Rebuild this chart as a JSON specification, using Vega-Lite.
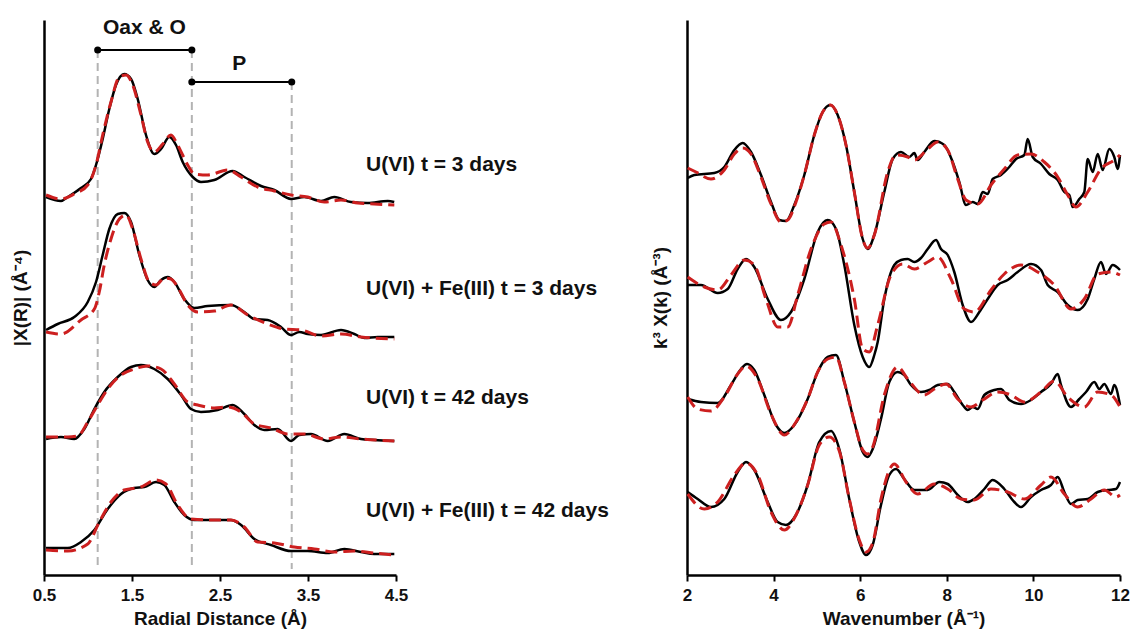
{
  "$schema": "https://vega.github.io/schema/vega-lite/v6.json",
  "padding": {"left": 11, "top": 16, "right": 5, "bottom": 5},
  "background": "white",
  "spacing": 291,
  "bounds": "flush",
  "config": {
    "view": {"stroke": null},
    "font": "Liberation Sans",
    "axis": {"domainColor": "black", "domainWidth": 2.5, "tickColor": "black", "tickWidth": 2, "tickSize": 6, "labelFont": "Liberation Sans", "labelFontWeight": "bold", "labelFontSize": 17, "labelColor": "#111111", "titleFont": "Liberation Sans", "titleFontWeight": "bold", "titleFontSize": 19, "titleColor": "#111111", "grid": false, "labelFlush": false},
    "axisY": {"ticks": false, "labels": false}
  },
  "datasets": {
    "L": [
      {"s":1,"t":"d","x":0.523,"y":378},{"s":1,"t":"d","x":0.693,"y":374},{"s":1,"t":"d","x":0.77,"y":378},{"s":1,"t":"d","x":0.92,"y":387},{"s":1,"t":"d","x":1.034,"y":396},{"s":1,"t":"d","x":1.091,"y":410},{"s":1,"t":"d","x":1.167,"y":436},{"s":1,"t":"d","x":1.242,"y":466},{"s":1,"t":"d","x":1.318,"y":490},{"s":1,"t":"d","x":1.412,"y":501},{"s":1,"t":"d","x":1.489,"y":496},{"s":1,"t":"d","x":1.565,"y":476},{"s":1,"t":"d","x":1.659,"y":440},{"s":1,"t":"d","x":1.753,"y":421},{"s":1,"t":"d","x":1.83,"y":426},{"s":1,"t":"d","x":1.924,"y":438},{"s":1,"t":"d","x":2.0,"y":430},{"s":1,"t":"d","x":2.076,"y":413},{"s":1,"t":"d","x":2.19,"y":398},{"s":1,"t":"d","x":2.284,"y":393},{"s":1,"t":"d","x":2.435,"y":395},{"s":1,"t":"d","x":2.644,"y":404},{"s":1,"t":"d","x":2.776,"y":398},{"s":1,"t":"d","x":2.966,"y":389},{"s":1,"t":"d","x":3.117,"y":385},{"s":1,"t":"d","x":3.307,"y":376},{"s":1,"t":"d","x":3.458,"y":378},{"s":1,"t":"d","x":3.648,"y":374},{"s":1,"t":"d","x":3.799,"y":378},{"s":1,"t":"d","x":3.989,"y":373},{"s":1,"t":"d","x":4.178,"y":372},{"s":1,"t":"d","x":4.406,"y":374},{"s":1,"t":"d","x":4.48,"y":373},
      {"s":1,"t":"f","x":0.523,"y":380},{"s":1,"t":"f","x":0.693,"y":376},{"s":1,"t":"f","x":0.844,"y":381},{"s":1,"t":"f","x":0.997,"y":390},{"s":1,"t":"f","x":1.091,"y":410},{"s":1,"t":"f","x":1.167,"y":440},{"s":1,"t":"f","x":1.261,"y":473},{"s":1,"t":"f","x":1.356,"y":498},{"s":1,"t":"f","x":1.432,"y":500},{"s":1,"t":"f","x":1.508,"y":490},{"s":1,"t":"f","x":1.602,"y":460},{"s":1,"t":"f","x":1.678,"y":433},{"s":1,"t":"f","x":1.753,"y":423},{"s":1,"t":"f","x":1.849,"y":431},{"s":1,"t":"f","x":1.943,"y":440},{"s":1,"t":"f","x":2.019,"y":430},{"s":1,"t":"f","x":2.133,"y":410},{"s":1,"t":"f","x":2.208,"y":401},{"s":1,"t":"f","x":2.36,"y":400},{"s":1,"t":"f","x":2.588,"y":405},{"s":1,"t":"f","x":2.739,"y":398},{"s":1,"t":"f","x":2.928,"y":388},{"s":1,"t":"f","x":3.117,"y":384},{"s":1,"t":"f","x":3.307,"y":380},{"s":1,"t":"f","x":3.497,"y":378},{"s":1,"t":"f","x":3.685,"y":373},{"s":1,"t":"f","x":3.875,"y":375},{"s":1,"t":"f","x":4.065,"y":372},{"s":1,"t":"f","x":4.253,"y":371},{"s":1,"t":"f","x":4.481,"y":370},
      {"s":2,"t":"d","x":0.523,"y":245},{"s":2,"t":"d","x":0.656,"y":251},{"s":2,"t":"d","x":0.844,"y":258},{"s":2,"t":"d","x":0.997,"y":273},{"s":2,"t":"d","x":1.091,"y":293},{"s":2,"t":"d","x":1.167,"y":320},{"s":2,"t":"d","x":1.242,"y":346},{"s":2,"t":"d","x":1.338,"y":361},{"s":2,"t":"d","x":1.412,"y":362},{"s":2,"t":"d","x":1.489,"y":353},{"s":2,"t":"d","x":1.583,"y":320},{"s":2,"t":"d","x":1.678,"y":295},{"s":2,"t":"d","x":1.753,"y":288},{"s":2,"t":"d","x":1.83,"y":295},{"s":2,"t":"d","x":1.906,"y":298},{"s":2,"t":"d","x":1.981,"y":293},{"s":2,"t":"d","x":2.094,"y":276},{"s":2,"t":"d","x":2.208,"y":267},{"s":2,"t":"d","x":2.36,"y":269},{"s":2,"t":"d","x":2.625,"y":270},{"s":2,"t":"d","x":2.776,"y":263},{"s":2,"t":"d","x":2.89,"y":256},{"s":2,"t":"d","x":3.042,"y":255},{"s":2,"t":"d","x":3.193,"y":248},{"s":2,"t":"d","x":3.307,"y":240},{"s":2,"t":"d","x":3.401,"y":243},{"s":2,"t":"d","x":3.497,"y":241},{"s":2,"t":"d","x":3.648,"y":240},{"s":2,"t":"d","x":3.875,"y":245},{"s":2,"t":"d","x":4.026,"y":241},{"s":2,"t":"d","x":4.14,"y":237},{"s":2,"t":"d","x":4.292,"y":238},{"s":2,"t":"d","x":4.481,"y":238},
      {"s":2,"t":"f","x":0.523,"y":243},{"s":2,"t":"f","x":0.693,"y":241},{"s":2,"t":"f","x":0.92,"y":255},{"s":2,"t":"f","x":1.072,"y":266},{"s":2,"t":"f","x":1.128,"y":283},{"s":2,"t":"f","x":1.185,"y":310},{"s":2,"t":"f","x":1.261,"y":336},{"s":2,"t":"f","x":1.356,"y":356},{"s":2,"t":"f","x":1.432,"y":360},{"s":2,"t":"f","x":1.508,"y":346},{"s":2,"t":"f","x":1.602,"y":316},{"s":2,"t":"f","x":1.697,"y":293},{"s":2,"t":"f","x":1.773,"y":290},{"s":2,"t":"f","x":1.867,"y":297},{"s":2,"t":"f","x":1.943,"y":296},{"s":2,"t":"f","x":2.019,"y":288},{"s":2,"t":"f","x":2.133,"y":270},{"s":2,"t":"f","x":2.247,"y":263},{"s":2,"t":"f","x":2.435,"y":264},{"s":2,"t":"f","x":2.625,"y":270},{"s":2,"t":"f","x":2.815,"y":260},{"s":2,"t":"f","x":3.042,"y":251},{"s":2,"t":"f","x":3.231,"y":246},{"s":2,"t":"f","x":3.42,"y":245},{"s":2,"t":"f","x":3.648,"y":239},{"s":2,"t":"f","x":3.875,"y":241},{"s":2,"t":"f","x":4.102,"y":238},{"s":2,"t":"f","x":4.481,"y":236},
      {"s":3,"t":"d","x":0.523,"y":136},{"s":3,"t":"d","x":0.693,"y":138},{"s":3,"t":"d","x":0.844,"y":136},{"s":3,"t":"d","x":0.958,"y":146},{"s":3,"t":"d","x":1.072,"y":166},{"s":3,"t":"d","x":1.185,"y":183},{"s":3,"t":"d","x":1.338,"y":198},{"s":3,"t":"d","x":1.489,"y":208},{"s":3,"t":"d","x":1.602,"y":210},{"s":3,"t":"d","x":1.753,"y":206},{"s":3,"t":"d","x":1.906,"y":196},{"s":3,"t":"d","x":2.057,"y":180},{"s":3,"t":"d","x":2.17,"y":166},{"s":3,"t":"d","x":2.284,"y":163},{"s":3,"t":"d","x":2.474,"y":165},{"s":3,"t":"d","x":2.644,"y":170},{"s":3,"t":"d","x":2.776,"y":161},{"s":3,"t":"d","x":2.89,"y":150},{"s":3,"t":"d","x":3.003,"y":145},{"s":3,"t":"d","x":3.156,"y":146},{"s":3,"t":"d","x":3.307,"y":134},{"s":3,"t":"d","x":3.401,"y":140},{"s":3,"t":"d","x":3.534,"y":141},{"s":3,"t":"d","x":3.724,"y":134},{"s":3,"t":"d","x":3.913,"y":141},{"s":3,"t":"d","x":4.102,"y":136},{"s":3,"t":"d","x":4.253,"y":135},{"s":3,"t":"d","x":4.481,"y":134},
      {"s":3,"t":"f","x":0.523,"y":138},{"s":3,"t":"f","x":0.77,"y":138},{"s":3,"t":"f","x":0.883,"y":139},{"s":3,"t":"f","x":0.997,"y":153},{"s":3,"t":"f","x":1.11,"y":170},{"s":3,"t":"f","x":1.224,"y":186},{"s":3,"t":"f","x":1.375,"y":200},{"s":3,"t":"f","x":1.526,"y":206},{"s":3,"t":"f","x":1.678,"y":209},{"s":3,"t":"f","x":1.83,"y":206},{"s":3,"t":"f","x":1.981,"y":191},{"s":3,"t":"f","x":2.133,"y":173},{"s":3,"t":"f","x":2.247,"y":170},{"s":3,"t":"f","x":2.435,"y":167},{"s":3,"t":"f","x":2.588,"y":168},{"s":3,"t":"f","x":2.739,"y":163},{"s":3,"t":"f","x":2.89,"y":151},{"s":3,"t":"f","x":3.08,"y":147},{"s":3,"t":"f","x":3.269,"y":141},{"s":3,"t":"f","x":3.458,"y":141},{"s":3,"t":"f","x":3.685,"y":136},{"s":3,"t":"f","x":3.875,"y":138},{"s":3,"t":"f","x":4.102,"y":136},{"s":3,"t":"f","x":4.481,"y":134},
      {"s":4,"t":"d","x":0.523,"y":27},{"s":4,"t":"d","x":0.77,"y":27},{"s":4,"t":"d","x":0.92,"y":33},{"s":4,"t":"d","x":1.072,"y":45},{"s":4,"t":"d","x":1.224,"y":66},{"s":4,"t":"d","x":1.375,"y":81},{"s":4,"t":"d","x":1.526,"y":87},{"s":4,"t":"d","x":1.64,"y":88},{"s":4,"t":"d","x":1.773,"y":93},{"s":4,"t":"d","x":1.867,"y":90},{"s":4,"t":"d","x":1.981,"y":73},{"s":4,"t":"d","x":2.094,"y":60},{"s":4,"t":"d","x":2.208,"y":55},{"s":4,"t":"d","x":2.435,"y":55},{"s":4,"t":"d","x":2.625,"y":55},{"s":4,"t":"d","x":2.739,"y":50},{"s":4,"t":"d","x":2.89,"y":36},{"s":4,"t":"d","x":3.08,"y":30},{"s":4,"t":"d","x":3.307,"y":24},{"s":4,"t":"d","x":3.497,"y":24},{"s":4,"t":"d","x":3.724,"y":22},{"s":4,"t":"d","x":3.913,"y":26},{"s":4,"t":"d","x":4.102,"y":23},{"s":4,"t":"d","x":4.253,"y":21},{"s":4,"t":"d","x":4.481,"y":21},
      {"s":4,"t":"f","x":0.523,"y":25},{"s":4,"t":"f","x":0.77,"y":24},{"s":4,"t":"f","x":0.997,"y":31},{"s":4,"t":"f","x":1.128,"y":53},{"s":4,"t":"f","x":1.261,"y":73},{"s":4,"t":"f","x":1.412,"y":85},{"s":4,"t":"f","x":1.602,"y":88},{"s":4,"t":"f","x":1.773,"y":95},{"s":4,"t":"f","x":1.886,"y":91},{"s":4,"t":"f","x":2.019,"y":70},{"s":4,"t":"f","x":2.17,"y":56},{"s":4,"t":"f","x":2.398,"y":55},{"s":4,"t":"f","x":2.625,"y":55},{"s":4,"t":"f","x":2.776,"y":48},{"s":4,"t":"f","x":2.928,"y":33},{"s":4,"t":"f","x":3.117,"y":32},{"s":4,"t":"f","x":3.344,"y":28},{"s":4,"t":"f","x":3.572,"y":26},{"s":4,"t":"f","x":3.799,"y":23},{"s":4,"t":"f","x":4.027,"y":24},{"s":4,"t":"f","x":4.253,"y":22},{"s":4,"t":"f","x":4.481,"y":20}
    ],
    "R": [
      {"s":1,"t":"d","x":2.016,"y":397},{"s":1,"t":"d","x":2.169,"y":400},{"s":1,"t":"d","x":2.63,"y":402},{"s":1,"t":"d","x":2.861,"y":408},{"s":1,"t":"d","x":3.092,"y":425},{"s":1,"t":"d","x":3.286,"y":432},{"s":1,"t":"d","x":3.478,"y":423},{"s":1,"t":"d","x":3.709,"y":400},{"s":1,"t":"d","x":3.94,"y":373},{"s":1,"t":"d","x":4.132,"y":355},{"s":1,"t":"d","x":4.286,"y":354},{"s":1,"t":"d","x":4.478,"y":370},{"s":1,"t":"d","x":4.709,"y":400},{"s":1,"t":"d","x":4.94,"y":440},{"s":1,"t":"d","x":5.134,"y":463},{"s":1,"t":"d","x":5.309,"y":470},{"s":1,"t":"d","x":5.48,"y":460},{"s":1,"t":"d","x":5.672,"y":430},{"s":1,"t":"d","x":5.864,"y":383},{"s":1,"t":"d","x":6.058,"y":336},{"s":1,"t":"d","x":6.173,"y":326},{"s":1,"t":"d","x":6.326,"y":340},{"s":1,"t":"d","x":6.557,"y":383},{"s":1,"t":"d","x":6.751,"y":416},{"s":1,"t":"d","x":6.942,"y":423},{"s":1,"t":"d","x":7.134,"y":418},{"s":1,"t":"d","x":7.25,"y":422},{"s":1,"t":"d","x":7.328,"y":415},{"s":1,"t":"d","x":7.48,"y":423},{"s":1,"t":"d","x":7.711,"y":434},{"s":1,"t":"d","x":7.942,"y":430},{"s":1,"t":"d","x":8.136,"y":413},{"s":1,"t":"d","x":8.289,"y":393},{"s":1,"t":"d","x":8.443,"y":370},{"s":1,"t":"d","x":8.598,"y":373},{"s":1,"t":"d","x":8.714,"y":371},{"s":1,"t":"d","x":8.829,"y":383},{"s":1,"t":"d","x":8.945,"y":381},{"s":1,"t":"d","x":9.06,"y":396},{"s":1,"t":"d","x":9.252,"y":400},{"s":1,"t":"d","x":9.443,"y":408},{"s":1,"t":"d","x":9.598,"y":416},{"s":1,"t":"d","x":9.79,"y":420},{"s":1,"t":"d","x":9.868,"y":436},{"s":1,"t":"d","x":9.984,"y":418},{"s":1,"t":"d","x":10.176,"y":411},{"s":1,"t":"d","x":10.367,"y":401},{"s":1,"t":"d","x":10.561,"y":395},{"s":1,"t":"d","x":10.714,"y":383},{"s":1,"t":"d","x":10.829,"y":380},{"s":1,"t":"d","x":10.908,"y":368},{"s":1,"t":"d","x":11.06,"y":376},{"s":1,"t":"d","x":11.176,"y":383},{"s":1,"t":"d","x":11.254,"y":416},{"s":1,"t":"d","x":11.37,"y":403},{"s":1,"t":"d","x":11.485,"y":421},{"s":1,"t":"d","x":11.6,"y":405},{"s":1,"t":"d","x":11.753,"y":426},{"s":1,"t":"d","x":11.868,"y":418},{"s":1,"t":"d","x":11.947,"y":406},{"s":1,"t":"d","x":12.0,"y":420},
      {"s":1,"t":"f","x":2.016,"y":407},{"s":1,"t":"f","x":2.208,"y":403},{"s":1,"t":"f","x":2.554,"y":396},{"s":1,"t":"f","x":2.861,"y":405},{"s":1,"t":"f","x":3.092,"y":421},{"s":1,"t":"f","x":3.286,"y":427},{"s":1,"t":"f","x":3.478,"y":421},{"s":1,"t":"f","x":3.709,"y":398},{"s":1,"t":"f","x":3.94,"y":371},{"s":1,"t":"f","x":4.171,"y":353},{"s":1,"t":"f","x":4.326,"y":355},{"s":1,"t":"f","x":4.517,"y":373},{"s":1,"t":"f","x":4.709,"y":400},{"s":1,"t":"f","x":4.94,"y":440},{"s":1,"t":"f","x":5.134,"y":463},{"s":1,"t":"f","x":5.309,"y":470},{"s":1,"t":"f","x":5.48,"y":460},{"s":1,"t":"f","x":5.672,"y":430},{"s":1,"t":"f","x":5.864,"y":383},{"s":1,"t":"f","x":6.058,"y":336},{"s":1,"t":"f","x":6.173,"y":327},{"s":1,"t":"f","x":6.326,"y":340},{"s":1,"t":"f","x":6.635,"y":403},{"s":1,"t":"f","x":6.827,"y":420},{"s":1,"t":"f","x":7.097,"y":418},{"s":1,"t":"f","x":7.25,"y":415},{"s":1,"t":"f","x":7.559,"y":426},{"s":1,"t":"f","x":7.79,"y":433},{"s":1,"t":"f","x":8.021,"y":425},{"s":1,"t":"f","x":8.252,"y":396},{"s":1,"t":"f","x":8.443,"y":375},{"s":1,"t":"f","x":8.714,"y":371},{"s":1,"t":"f","x":9.021,"y":390},{"s":1,"t":"f","x":9.328,"y":406},{"s":1,"t":"f","x":9.637,"y":420},{"s":1,"t":"f","x":9.945,"y":421},{"s":1,"t":"f","x":10.252,"y":413},{"s":1,"t":"f","x":10.561,"y":398},{"s":1,"t":"f","x":10.792,"y":380},{"s":1,"t":"f","x":10.984,"y":368},{"s":1,"t":"f","x":11.254,"y":383},{"s":1,"t":"f","x":11.561,"y":406},{"s":1,"t":"f","x":11.868,"y":415},{"s":1,"t":"f","x":12.0,"y":420},
      {"s":2,"t":"d","x":2.016,"y":290},{"s":2,"t":"d","x":2.323,"y":290},{"s":2,"t":"d","x":2.709,"y":282},{"s":2,"t":"d","x":2.94,"y":286},{"s":2,"t":"d","x":3.171,"y":306},{"s":2,"t":"d","x":3.363,"y":316},{"s":2,"t":"d","x":3.554,"y":308},{"s":2,"t":"d","x":3.864,"y":276},{"s":2,"t":"d","x":4.171,"y":255},{"s":2,"t":"d","x":4.402,"y":263},{"s":2,"t":"d","x":4.709,"y":296},{"s":2,"t":"d","x":5.018,"y":343},{"s":2,"t":"d","x":5.249,"y":355},{"s":2,"t":"d","x":5.441,"y":346},{"s":2,"t":"d","x":5.633,"y":310},{"s":2,"t":"d","x":5.864,"y":250},{"s":2,"t":"d","x":6.058,"y":218},{"s":2,"t":"d","x":6.21,"y":208},{"s":2,"t":"d","x":6.326,"y":220},{"s":2,"t":"d","x":6.404,"y":233},{"s":2,"t":"d","x":6.557,"y":276},{"s":2,"t":"d","x":6.788,"y":310},{"s":2,"t":"d","x":6.942,"y":315},{"s":2,"t":"d","x":7.097,"y":316},{"s":2,"t":"d","x":7.25,"y":313},{"s":2,"t":"d","x":7.404,"y":317},{"s":2,"t":"d","x":7.559,"y":326},{"s":2,"t":"d","x":7.751,"y":335},{"s":2,"t":"d","x":7.866,"y":326},{"s":2,"t":"d","x":8.021,"y":320},{"s":2,"t":"d","x":8.173,"y":303},{"s":2,"t":"d","x":8.367,"y":270},{"s":2,"t":"d","x":8.559,"y":253},{"s":2,"t":"d","x":8.751,"y":263},{"s":2,"t":"d","x":8.945,"y":276},{"s":2,"t":"d","x":9.176,"y":290},{"s":2,"t":"d","x":9.406,"y":295},{"s":2,"t":"d","x":9.637,"y":303},{"s":2,"t":"d","x":9.945,"y":311},{"s":2,"t":"d","x":10.176,"y":305},{"s":2,"t":"d","x":10.33,"y":290},{"s":2,"t":"d","x":10.561,"y":283},{"s":2,"t":"d","x":10.792,"y":270},{"s":2,"t":"d","x":11.023,"y":265},{"s":2,"t":"d","x":11.254,"y":276},{"s":2,"t":"d","x":11.406,"y":296},{"s":2,"t":"d","x":11.561,"y":313},{"s":2,"t":"d","x":11.677,"y":301},{"s":2,"t":"d","x":11.831,"y":310},{"s":2,"t":"d","x":12.0,"y":305},
      {"s":2,"t":"f","x":2.016,"y":298},{"s":2,"t":"f","x":2.4,"y":288},{"s":2,"t":"f","x":2.709,"y":285},{"s":2,"t":"f","x":3.016,"y":300},{"s":2,"t":"f","x":3.323,"y":315},{"s":2,"t":"f","x":3.554,"y":310},{"s":2,"t":"f","x":3.824,"y":276},{"s":2,"t":"f","x":4.095,"y":248},{"s":2,"t":"f","x":4.326,"y":248},{"s":2,"t":"f","x":4.557,"y":280},{"s":2,"t":"f","x":4.864,"y":326},{"s":2,"t":"f","x":5.171,"y":351},{"s":2,"t":"f","x":5.326,"y":353},{"s":2,"t":"f","x":5.557,"y":330},{"s":2,"t":"f","x":5.864,"y":276},{"s":2,"t":"f","x":6.058,"y":226},{"s":2,"t":"f","x":6.21,"y":223},{"s":2,"t":"f","x":6.404,"y":250},{"s":2,"t":"f","x":6.711,"y":300},{"s":2,"t":"f","x":6.982,"y":311},{"s":2,"t":"f","x":7.25,"y":306},{"s":2,"t":"f","x":7.559,"y":313},{"s":2,"t":"f","x":7.79,"y":318},{"s":2,"t":"f","x":8.097,"y":296},{"s":2,"t":"f","x":8.404,"y":266},{"s":2,"t":"f","x":8.635,"y":263},{"s":2,"t":"f","x":9.021,"y":285},{"s":2,"t":"f","x":9.328,"y":301},{"s":2,"t":"f","x":9.714,"y":310},{"s":2,"t":"f","x":10.099,"y":303},{"s":2,"t":"f","x":10.483,"y":290},{"s":2,"t":"f","x":10.868,"y":266},{"s":2,"t":"f","x":11.176,"y":276},{"s":2,"t":"f","x":11.485,"y":301},{"s":2,"t":"f","x":11.792,"y":303},{"s":2,"t":"f","x":12.0,"y":300},
      {"s":3,"t":"d","x":2.016,"y":176},{"s":3,"t":"d","x":2.323,"y":173},{"s":3,"t":"d","x":2.709,"y":172},{"s":3,"t":"d","x":3.016,"y":190},{"s":3,"t":"d","x":3.247,"y":206},{"s":3,"t":"d","x":3.386,"y":211},{"s":3,"t":"d","x":3.554,"y":205},{"s":3,"t":"d","x":3.785,"y":180},{"s":3,"t":"d","x":4.055,"y":150},{"s":3,"t":"d","x":4.247,"y":142},{"s":3,"t":"d","x":4.478,"y":150},{"s":3,"t":"d","x":4.787,"y":176},{"s":3,"t":"d","x":5.018,"y":203},{"s":3,"t":"d","x":5.249,"y":218},{"s":3,"t":"d","x":5.441,"y":220},{"s":3,"t":"d","x":5.633,"y":193},{"s":3,"t":"d","x":5.864,"y":153},{"s":3,"t":"d","x":6.058,"y":123},{"s":3,"t":"d","x":6.173,"y":118},{"s":3,"t":"d","x":6.289,"y":126},{"s":3,"t":"d","x":6.48,"y":156},{"s":3,"t":"d","x":6.672,"y":193},{"s":3,"t":"d","x":6.866,"y":203},{"s":3,"t":"d","x":7.018,"y":200},{"s":3,"t":"d","x":7.173,"y":190},{"s":3,"t":"d","x":7.404,"y":183},{"s":3,"t":"d","x":7.596,"y":185},{"s":3,"t":"d","x":7.79,"y":190},{"s":3,"t":"d","x":8.021,"y":191},{"s":3,"t":"d","x":8.173,"y":183},{"s":3,"t":"d","x":8.367,"y":170},{"s":3,"t":"d","x":8.483,"y":165},{"s":3,"t":"d","x":8.598,"y":168},{"s":3,"t":"d","x":8.714,"y":166},{"s":3,"t":"d","x":8.866,"y":180},{"s":3,"t":"d","x":9.097,"y":185},{"s":3,"t":"d","x":9.252,"y":186},{"s":3,"t":"d","x":9.443,"y":175},{"s":3,"t":"d","x":9.714,"y":171},{"s":3,"t":"d","x":9.945,"y":175},{"s":3,"t":"d","x":10.176,"y":183},{"s":3,"t":"d","x":10.406,"y":191},{"s":3,"t":"d","x":10.561,"y":201},{"s":3,"t":"d","x":10.637,"y":190},{"s":3,"t":"d","x":10.868,"y":168},{"s":3,"t":"d","x":11.06,"y":176},{"s":3,"t":"d","x":11.215,"y":183},{"s":3,"t":"d","x":11.406,"y":193},{"s":3,"t":"d","x":11.522,"y":186},{"s":3,"t":"d","x":11.637,"y":191},{"s":3,"t":"d","x":11.792,"y":181},{"s":3,"t":"d","x":11.868,"y":190},{"s":3,"t":"d","x":12.0,"y":170},
      {"s":3,"t":"f","x":2.016,"y":178},{"s":3,"t":"f","x":2.247,"y":166},{"s":3,"t":"f","x":2.554,"y":164},{"s":3,"t":"f","x":2.861,"y":178},{"s":3,"t":"f","x":3.171,"y":201},{"s":3,"t":"f","x":3.363,"y":209},{"s":3,"t":"f","x":3.633,"y":196},{"s":3,"t":"f","x":3.94,"y":161},{"s":3,"t":"f","x":4.247,"y":140},{"s":3,"t":"f","x":4.517,"y":153},{"s":3,"t":"f","x":4.787,"y":176},{"s":3,"t":"f","x":5.018,"y":203},{"s":3,"t":"f","x":5.249,"y":216},{"s":3,"t":"f","x":5.441,"y":218},{"s":3,"t":"f","x":5.633,"y":193},{"s":3,"t":"f","x":5.864,"y":153},{"s":3,"t":"f","x":6.058,"y":125},{"s":3,"t":"f","x":6.173,"y":121},{"s":3,"t":"f","x":6.289,"y":128},{"s":3,"t":"f","x":6.557,"y":180},{"s":3,"t":"f","x":6.866,"y":208},{"s":3,"t":"f","x":7.097,"y":196},{"s":3,"t":"f","x":7.48,"y":180},{"s":3,"t":"f","x":7.711,"y":186},{"s":3,"t":"f","x":7.982,"y":191},{"s":3,"t":"f","x":8.252,"y":176},{"s":3,"t":"f","x":8.559,"y":168},{"s":3,"t":"f","x":8.829,"y":175},{"s":3,"t":"f","x":9.176,"y":183},{"s":3,"t":"f","x":9.483,"y":180},{"s":3,"t":"f","x":9.79,"y":173},{"s":3,"t":"f","x":10.176,"y":183},{"s":3,"t":"f","x":10.483,"y":194},{"s":3,"t":"f","x":10.792,"y":178},{"s":3,"t":"f","x":11.176,"y":168},{"s":3,"t":"f","x":11.485,"y":183},{"s":3,"t":"f","x":11.792,"y":180},{"s":3,"t":"f","x":12.0,"y":168},
      {"s":4,"t":"d","x":2.016,"y":83},{"s":4,"t":"d","x":2.247,"y":76},{"s":4,"t":"d","x":2.554,"y":68},{"s":4,"t":"d","x":2.861,"y":76},{"s":4,"t":"d","x":3.171,"y":103},{"s":4,"t":"d","x":3.363,"y":113},{"s":4,"t":"d","x":3.554,"y":105},{"s":4,"t":"d","x":3.864,"y":73},{"s":4,"t":"d","x":4.095,"y":53},{"s":4,"t":"d","x":4.286,"y":50},{"s":4,"t":"d","x":4.517,"y":60},{"s":4,"t":"d","x":4.787,"y":90},{"s":4,"t":"d","x":5.055,"y":133},{"s":4,"t":"d","x":5.326,"y":144},{"s":4,"t":"d","x":5.517,"y":126},{"s":4,"t":"d","x":5.748,"y":76},{"s":4,"t":"d","x":5.979,"y":33},{"s":4,"t":"d","x":6.134,"y":20},{"s":4,"t":"d","x":6.289,"y":30},{"s":4,"t":"d","x":6.48,"y":70},{"s":4,"t":"d","x":6.672,"y":100},{"s":4,"t":"d","x":6.827,"y":106},{"s":4,"t":"d","x":7.018,"y":96},{"s":4,"t":"d","x":7.25,"y":85},{"s":4,"t":"d","x":7.559,"y":85},{"s":4,"t":"d","x":7.827,"y":93},{"s":4,"t":"d","x":8.021,"y":91},{"s":4,"t":"d","x":8.252,"y":80},{"s":4,"t":"d","x":8.483,"y":73},{"s":4,"t":"d","x":8.635,"y":76},{"s":4,"t":"d","x":8.866,"y":86},{"s":4,"t":"d","x":9.06,"y":95},{"s":4,"t":"d","x":9.328,"y":86},{"s":4,"t":"d","x":9.559,"y":73},{"s":4,"t":"d","x":9.714,"y":68},{"s":4,"t":"d","x":9.945,"y":78},{"s":4,"t":"d","x":10.176,"y":85},{"s":4,"t":"d","x":10.406,"y":90},{"s":4,"t":"d","x":10.561,"y":98},{"s":4,"t":"d","x":10.714,"y":83},{"s":4,"t":"d","x":10.868,"y":71},{"s":4,"t":"d","x":11.023,"y":75},{"s":4,"t":"d","x":11.254,"y":76},{"s":4,"t":"d","x":11.485,"y":83},{"s":4,"t":"d","x":11.716,"y":85},{"s":4,"t":"d","x":11.908,"y":86},{"s":4,"t":"d","x":12.0,"y":93},
      {"s":4,"t":"f","x":2.016,"y":81},{"s":4,"t":"f","x":2.4,"y":66},{"s":4,"t":"f","x":2.709,"y":73},{"s":4,"t":"f","x":3.092,"y":100},{"s":4,"t":"f","x":3.363,"y":112},{"s":4,"t":"f","x":3.633,"y":100},{"s":4,"t":"f","x":3.94,"y":63},{"s":4,"t":"f","x":4.247,"y":45},{"s":4,"t":"f","x":4.517,"y":60},{"s":4,"t":"f","x":4.787,"y":90},{"s":4,"t":"f","x":5.055,"y":130},{"s":4,"t":"f","x":5.286,"y":138},{"s":4,"t":"f","x":5.517,"y":124},{"s":4,"t":"f","x":5.748,"y":76},{"s":4,"t":"f","x":5.979,"y":35},{"s":4,"t":"f","x":6.134,"y":23},{"s":4,"t":"f","x":6.289,"y":32},{"s":4,"t":"f","x":6.48,"y":76},{"s":4,"t":"f","x":6.788,"y":111},{"s":4,"t":"f","x":7.058,"y":93},{"s":4,"t":"f","x":7.328,"y":81},{"s":4,"t":"f","x":7.711,"y":91},{"s":4,"t":"f","x":8.021,"y":86},{"s":4,"t":"f","x":8.328,"y":76},{"s":4,"t":"f","x":8.635,"y":75},{"s":4,"t":"f","x":9.021,"y":86},{"s":4,"t":"f","x":9.406,"y":83},{"s":4,"t":"f","x":9.79,"y":76},{"s":4,"t":"f","x":10.176,"y":90},{"s":4,"t":"f","x":10.406,"y":98},{"s":4,"t":"f","x":10.714,"y":81},{"s":4,"t":"f","x":11.023,"y":68},{"s":4,"t":"f","x":11.33,"y":76},{"s":4,"t":"f","x":11.637,"y":85},{"s":4,"t":"f","x":11.908,"y":78},{"s":4,"t":"f","x":12.0,"y":80}
    ],
    "V": [{"x":1.11,"y":525,"y2":6},{"x":2.18,"y":525,"y2":6},{"x":3.315,"y":493,"y2":6}],
    "B": [{"x":1.11,"x2":2.18,"y":525},{"x":2.18,"x2":3.315,"y":493}],
    "D": [{"x":1.11,"y":525},{"x":2.18,"y":525},{"x":2.18,"y":493},{"x":3.315,"y":493}],
    "A": [{"x":1.64,"y":547,"label":"Oax & O"},{"x":2.72,"y":511,"label":"P"}],
    "S": [{"x":4.16,"y":410,"label":"U(VI) t = 3 days"},{"x":4.16,"y":286,"label":"U(VI) + Fe(III) t = 3 days"},{"x":4.16,"y":177,"label":"U(VI) t = 42 days"},{"x":4.16,"y":64,"label":"U(VI) + Fe(III) t = 42 days"}]
  },
  "hconcat": [
    {
      "width": 352,
      "height": 555,
      "encoding": {
        "x": {"field": "x", "type": "quantitative", "scale": {"domain": [0.5, 4.5], "nice": false, "zero": false}, "axis": {"title": "Radial Distance (Å)", "values": [0.5, 1.5, 2.5, 3.5, 4.5], "format": ".1f", "labelPadding": 6, "titlePadding": 6}},
        "y": {"field": "y", "type": "quantitative", "scale": {"domain": [0, 555], "nice": false, "zero": false}, "axis": {"title": "|X(R)| (Å⁻⁴)", "titlePadding": 14}}
      },
      "layer": [
        {"data": {"name": "V"}, "mark": {"type": "rule", "color": "#b3b3b3", "strokeWidth": 2, "strokeDash": [8, 5]}, "encoding": {"y2": {"field": "y2"}}},
        {"data": {"name": "B"}, "mark": {"type": "rule", "color": "black", "strokeWidth": 2}, "encoding": {"x2": {"field": "x2"}}},
        {"data": {"name": "D"}, "mark": {"type": "point", "filled": true, "color": "black", "size": 50, "opacity": 1}},
        {"data": {"name": "A"}, "mark": {"type": "text", "font": "Liberation Sans", "fontWeight": "bold", "fontSize": 21, "color": "#111111", "align": "center", "baseline": "middle"}, "encoding": {"text": {"field": "label"}}},
        {"data": {"name": "L"}, "transform": [{"filter": "datum.t == 'd'"}], "mark": {"type": "line", "color": "black", "strokeWidth": 2.5, "interpolate": "monotone"}, "encoding": {"detail": {"field": "s"}}},
        {"data": {"name": "L"}, "transform": [{"filter": "datum.t == 'f'"}], "mark": {"type": "line", "color": "#cc1f1f", "strokeWidth": 3, "strokeDash": [12, 6], "interpolate": "monotone"}, "encoding": {"detail": {"field": "s"}}},
        {"data": {"name": "S"}, "mark": {"type": "text", "font": "Liberation Sans", "fontWeight": "bold", "fontSize": 21, "color": "#111111", "align": "left", "baseline": "middle"}, "encoding": {"text": {"field": "label"}}}
      ]
    },
    {
      "width": 433,
      "height": 555,
      "encoding": {
        "x": {"field": "x", "type": "quantitative", "scale": {"domain": [2, 12], "nice": false, "zero": false}, "axis": {"title": "Wavenumber (Å⁻¹)", "values": [2, 4, 6, 8, 10, 12], "labelPadding": 6, "titlePadding": 6}},
        "y": {"field": "y", "type": "quantitative", "scale": {"domain": [0, 555], "nice": false, "zero": false}, "axis": {"title": "k³ X(k) (Å⁻³)", "titlePadding": 17}}
      },
      "layer": [
        {"data": {"name": "R"}, "transform": [{"filter": "datum.t == 'd'"}], "mark": {"type": "line", "color": "black", "strokeWidth": 2.5, "interpolate": "monotone"}, "encoding": {"detail": {"field": "s"}}},
        {"data": {"name": "R"}, "transform": [{"filter": "datum.t == 'f'"}], "mark": {"type": "line", "color": "#cc1f1f", "strokeWidth": 3, "strokeDash": [12, 6], "interpolate": "monotone"}, "encoding": {"detail": {"field": "s"}}}
      ]
    }
  ]
}
